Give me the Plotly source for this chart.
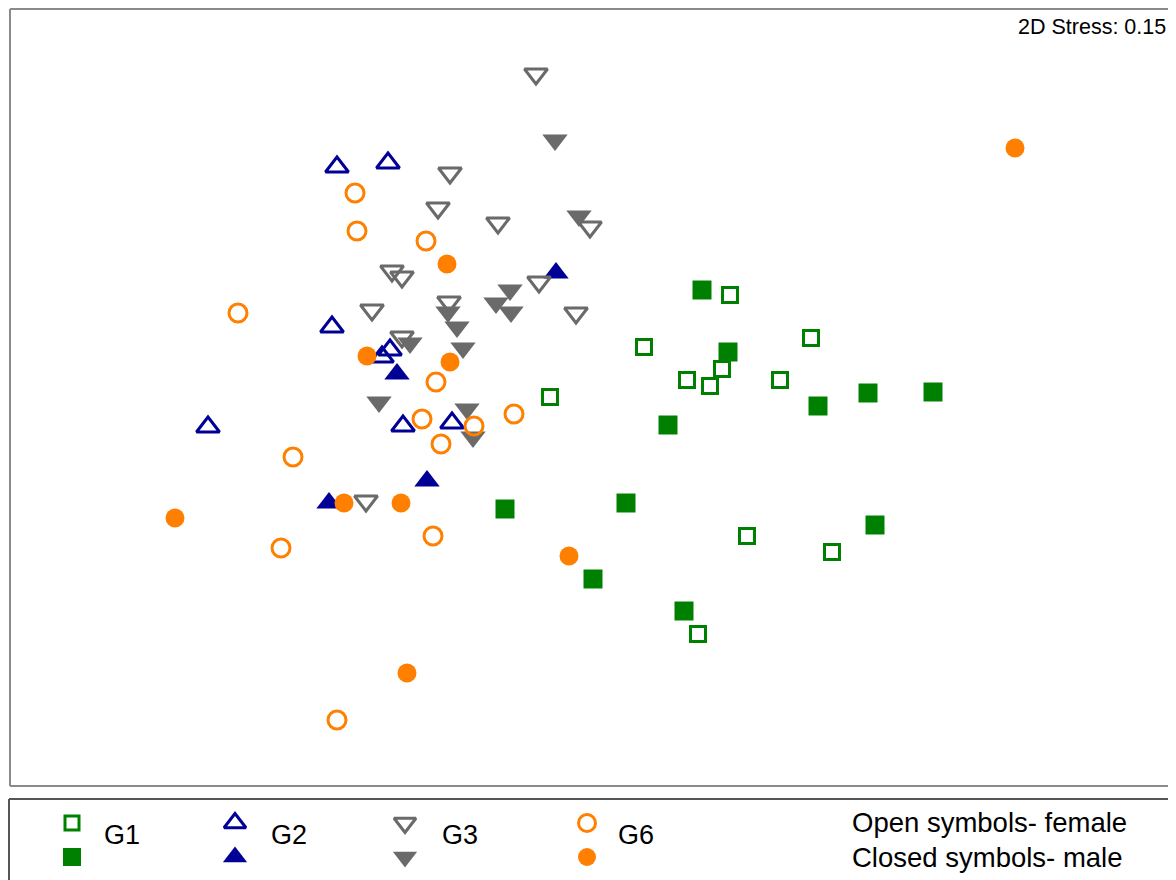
import plotly.graph_objects as go

# NMDS ordination coordinates (in plot units)
g1_female_x = [730, 644, 811, 687, 722, 710, 780, 550, 747, 832, 698]
g1_female_y = [295, 347, 338, 380, 369, 386, 380, 397, 536, 552, 634]
g1_male_x = [702, 728, 868, 933, 818, 668, 505, 626, 875, 593, 684]
g1_male_y = [290, 352, 393, 392, 406, 425, 509, 503, 525, 579, 611]

g2_female_x = [337, 388, 332, 208, 382, 390, 403, 452]
g2_female_y = [167, 163, 327, 427, 357, 350, 426, 423]
g2_male_x = [556, 397, 427, 329]
g2_male_y = [273, 374, 481, 503]

g3_female_x = [536, 450, 438, 498, 590, 392, 402, 539, 449, 372, 576, 402, 366]
g3_female_y = [74, 173, 208, 223, 227, 271, 277, 282, 302, 310, 313, 337, 501]
g3_male_x = [555, 579, 510, 496, 511, 448, 457, 410, 463, 379, 467, 473]
g3_male_y = [140, 216, 290, 303, 312, 312, 327, 343, 348, 402, 409, 437]

g6_female_x = [355, 357, 426, 238, 436, 422, 474, 441, 514, 293, 281, 433, 337]
g6_female_y = [193, 231, 241, 313, 382, 419, 426, 444, 414, 457, 548, 536, 720]
g6_male_x = [1015, 447, 367, 450, 175, 344, 401, 569, 407]
g6_male_y = [148, 264, 356, 362, 518, 503, 503, 556, 673]

groups = ["G1", "G2", "G3", "G6"]
stress_label = "2D Stress: 0.15"
legend_notes = ["Open symbols- female", "Closed symbols- male"]

GREEN = "#008000"
BLUE = "#000096"
GRAY = "#6a6a6a"
ORANGE = "#ff8000"
FONT = "Liberation Sans, Arial"

styles = {
    "G1": dict(color=GREEN, open="square-open", closed="square", so=15, sc=19),
    "G2": dict(color=BLUE, open="triangle-up-open", closed="triangle-up", so=20, sc=22),
    "G3": dict(color=GRAY, open="triangle-down-open", closed="triangle-down", so=20, sc=22),
    "G6": dict(color=ORANGE, open="circle-open", closed="circle", so=18, sc=19),
}

data = {
    "G1": (g1_female_x, g1_female_y, g1_male_x, g1_male_y),
    "G2": (g2_female_x, g2_female_y, g2_male_x, g2_male_y),
    "G3": (g3_female_x, g3_female_y, g3_male_x, g3_male_y),
    "G6": (g6_female_x, g6_female_y, g6_male_x, g6_male_y),
}

fig = go.Figure()

for g in groups:
    fx, fy, mx, my = data[g]
    s = styles[g]
    fig.add_trace(go.Scatter(
        x=fx, y=fy, mode="markers", showlegend=False, name=g + " female",
        marker=dict(symbol=s["open"], size=s["so"], color=s["color"],
                    line=dict(color=s["color"], width=3)),
        cliponaxis=False))
    fig.add_trace(go.Scatter(
        x=mx, y=my, mode="markers", showlegend=False, name=g + " male",
        marker=dict(symbol=s["closed"], size=s["sc"], color=s["color"],
                    line=dict(width=0)),
        cliponaxis=False))

# custom legend box contents
leg_x = [72, 235, 405, 587]
leg_text_x = [102, 269, 440, 616]
for g, lx, tx in zip(groups, leg_x, leg_text_x):
    s = styles[g]
    fig.add_trace(go.Scatter(
        x=[lx], y=[823], mode="markers", showlegend=False,
        marker=dict(symbol=s["open"], size=s["so"] - 1, color=s["color"],
                    line=dict(color=s["color"], width=3)), cliponaxis=False))
    fig.add_trace(go.Scatter(
        x=[lx], y=[857], mode="markers", showlegend=False,
        marker=dict(symbol=s["closed"], size=s["sc"] - 1, color=s["color"],
                    line=dict(width=0)), cliponaxis=False))
    fig.add_annotation(x=tx, y=835, text=g, showarrow=False, xanchor="left",
                       yanchor="middle", font=dict(size=27, color="black", family=FONT))

fig.add_annotation(x=850, y=822, text=legend_notes[0], showarrow=False, xanchor="left",
                   yanchor="middle", font=dict(size=27.5, color="black", family=FONT))
fig.add_annotation(x=850, y=857, text=legend_notes[1], showarrow=False, xanchor="left",
                   yanchor="middle", font=dict(size=27.5, color="black", family=FONT))

fig.add_annotation(x=1168, y=27, text=stress_label, showarrow=False, xanchor="right",
                   yanchor="middle", font=dict(size=21.5, color="black", family=FONT))

# plot frame (right side off the page)
frame_col = "#8a8a8a"
fig.add_shape(type="line", x0=10, y0=9, x1=1200, y1=9, line=dict(color=frame_col, width=2))
fig.add_shape(type="line", x0=10, y0=9, x1=10, y1=786, line=dict(color=frame_col, width=2))
fig.add_shape(type="line", x0=10, y0=786, x1=1200, y1=786, line=dict(color=frame_col, width=2))
# legend frame
leg_col = "#555555"
fig.add_shape(type="line", x0=9, y0=799, x1=1200, y1=799, line=dict(color=leg_col, width=2))
fig.add_shape(type="line", x0=9, y0=799, x1=9, y1=900, line=dict(color=leg_col, width=2))

# the page adds an 8 px body margin; shift the ranges so plot units match page pixels
fig.update_xaxes(range=[8, 1184], visible=False, showgrid=False, zeroline=False)
fig.update_yaxes(range=[888, 8], visible=False, showgrid=False, zeroline=False)
fig.update_layout(width=1176, height=880, margin=dict(l=0, r=0, t=0, b=0),
                  plot_bgcolor="white", paper_bgcolor="white", showlegend=False)

fig.write_html("out.html")
